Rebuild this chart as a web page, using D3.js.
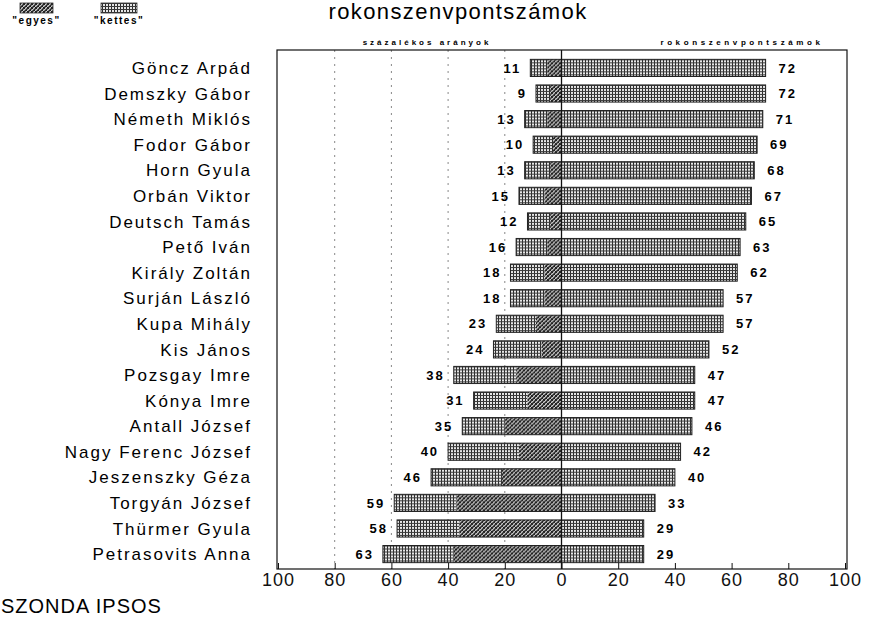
<!DOCTYPE html>
<html>
<head>
<meta charset="utf-8">
<script src="https://cdn.jsdelivr.net/npm/d3@7"></script>
<style>
  body { margin: 0; background: #fff; }
  svg { display: block; font-family: "Liberation Sans", Arial, sans-serif; }
</style>
</head>
<body>
<svg id="chart" width="869" height="618"></svg>
<script>
// politicians, top to bottom
const names = [
  'Göncz Arpád', 'Demszky Gábor', 'Németh Miklós', 'Fodor Gábor', 'Horn Gyula',
  'Orbán Viktor', 'Deutsch Tamás', 'Pető Iván', 'Király Zoltán', 'Surján László',
  'Kupa Mihály', 'Kis János', 'Pozsgay Imre', 'Kónya Imre', 'Antall József',
  'Nagy Ferenc József', 'Jeszenszky Géza', 'Torgyán József', 'Thürmer Gyula', 'Petrasovits Anna'
];
// "egyes" + "kettes" together (left side, percent)
const lowTotal = [11, 9, 13, 10, 13, 15, 12, 16, 18, 18, 23, 24, 38, 31, 35, 40, 46, 59, 58, 63];
// "egyes" share (darker part)
const egyes = [5, 4, 5, 3, 4, 6, 4, 5, 6, 6, 9, 7, 16, 12, 20, 15, 21, 37, 36, 38];
// rokonszenvpontszámok (right side)
const scores = [72, 72, 71, 69, 68, 67, 65, 63, 62, 57, 57, 52, 47, 47, 46, 42, 40, 33, 29, 29];
const tickValues = [-100, -80, -60, -40, -20, 0, 20, 40, 60, 80, 100];
const gridValues = [-80, -60, -40, -20];

const svg = d3.select('#chart');

const frame = { left: 277, right: 847, top: 50, bottom: 569 };

const x = d3.scaleLinear().domain([-100, 100]).range([frame.left + 1, frame.right - 2]);
const y = d3.scaleBand().domain(names).range([55, 567]).paddingInner(0.33).paddingOuter(0.17);

// textures
const defs = svg.append('defs');
const grid = defs.append('pattern')
  .attr('id', 'kettes').attr('width', 3).attr('height', 3)
  .attr('patternUnits', 'userSpaceOnUse');
grid.append('rect').attr('width', 3).attr('height', 3).attr('fill', '#e6e6e6');
grid.append('rect').attr('width', 1).attr('height', 3).attr('fill', '#2a2a2a');
grid.append('rect').attr('width', 3).attr('height', 1).attr('fill', '#3a3a3a');

const stip = defs.append('pattern')
  .attr('id', 'egyes').attr('width', 4).attr('height', 4)
  .attr('patternUnits', 'userSpaceOnUse');
stip.append('rect').attr('width', 4).attr('height', 4).attr('fill', '#777');
[[0, 0], [2, 1], [1, 2], [3, 3], [3, 0], [0, 3], [2, 2]].forEach(p => {
  stip.append('rect').attr('x', p[0]).attr('y', p[1]).attr('width', 1).attr('height', 1).attr('fill', '#222');
});
[[1, 0], [3, 2], [0, 1], [2, 3]].forEach(p => {
  stip.append('rect').attr('x', p[0]).attr('y', p[1]).attr('width', 1).attr('height', 1).attr('fill', '#cfcfcf');
});

// title
svg.append('text')
  .attr('x', 458).attr('y', 19)
  .attr('text-anchor', 'middle')
  .style('font-size', '22px')
  .style('letter-spacing', '1.4px')
  .text('rokonszenvpontszámok');

// legend
const legend = [
  { key: 'egyes', x: 20, w: 33 },
  { key: 'kettes', x: 101, w: 36 }
];
legend.forEach(l => {
  svg.append('rect')
    .attr('x', l.x).attr('y', 3).attr('width', l.w).attr('height', 10)
    .attr('fill', `url(#${l.key})`)
    .attr('stroke', '#333').attr('stroke-width', 0.8);
  svg.append('text')
    .attr('x', l.x + l.w / 2).attr('y', 24)
    .attr('text-anchor', 'middle')
    .style('font-size', '10px').style('font-weight', 'bold')
    .style('letter-spacing', '1.5px')
    .text(`"${l.key}"`);
});

// small headers above frame
svg.append('text')
  .attr('x', 427).attr('y', 45)
  .attr('text-anchor', 'middle')
  .style('font-size', '8px').style('font-weight', 'bold')
  .style('letter-spacing', '3px')
  .text('százalékos arányok');
svg.append('text')
  .attr('x', 742).attr('y', 45)
  .attr('text-anchor', 'middle')
  .style('font-size', '8px').style('font-weight', 'bold')
  .style('letter-spacing', '3.6px')
  .text('rokonszenvpontszámok');

// gridlines (left side, dotted)
svg.append('g')
  .selectAll('line')
  .data(gridValues)
  .join('line')
  .attr('x1', d => x(d)).attr('x2', d => x(d))
  .attr('y1', frame.top).attr('y2', frame.bottom)
  .attr('stroke', '#888')
  .attr('stroke-width', 1)
  .attr('stroke-dasharray', '2,5');

// frame
svg.append('rect')
  .attr('x', frame.left).attr('y', frame.top)
  .attr('width', frame.right - frame.left).attr('height', frame.bottom - frame.top)
  .attr('fill', 'none').attr('stroke', '#111').attr('stroke-width', 1.2);

// bottom axis
const axis = svg.append('g')
  .attr('transform', `translate(0,${frame.bottom})`)
  .call(d3.axisBottom(x).tickValues(tickValues).tickSize(-6).tickPadding(3)
    .tickFormat(d => Math.abs(d)));
axis.select('.domain').remove();
axis.selectAll('.tick line').attr('stroke', '#111');
axis.selectAll('.tick text')
  .style('font-size', '18px')
  .style('letter-spacing', '1px')
  .style('font-family', '"Liberation Sans", Arial, sans-serif')
  .attr('fill', '#111')
  .attr('dy', '0.75em');

const rows = svg.append('g')
  .selectAll('g')
  .data(names)
  .join('g')
  .attr('transform', d => `translate(0,${y(d)})`);

const h = y.bandwidth();

// kettes part (outer left)
rows.append('rect')
  .attr('x', (d, i) => x(-lowTotal[i]))
  .attr('width', (d, i) => x(-egyes[i]) - x(-lowTotal[i]))
  .attr('height', h)
  .attr('fill', 'url(#kettes)');
// egyes part (inner left)
rows.append('rect')
  .attr('x', (d, i) => x(-egyes[i]))
  .attr('width', (d, i) => x(0) - x(-egyes[i]))
  .attr('height', h)
  .attr('fill', 'url(#egyes)');
// outline left bar
rows.append('rect')
  .attr('x', (d, i) => x(-lowTotal[i]))
  .attr('width', (d, i) => x(0) - x(-lowTotal[i]))
  .attr('height', h)
  .attr('fill', 'none').attr('stroke', '#222').attr('stroke-width', 1);
// right bar
rows.append('rect')
  .attr('x', x(0))
  .attr('width', (d, i) => x(scores[i]) - x(0))
  .attr('height', h)
  .attr('fill', 'url(#kettes)')
  .attr('stroke', '#222').attr('stroke-width', 1);

// value labels
rows.append('text')
  .attr('x', (d, i) => x(-lowTotal[i]) - 9)
  .attr('y', h / 2).attr('dy', '0.36em')
  .attr('text-anchor', 'end')
  .style('font-size', '13px').style('font-weight', 'bold')
  .style('letter-spacing', '2px')
  .text((d, i) => lowTotal[i]);
rows.append('text')
  .attr('x', (d, i) => x(scores[i]) + 13)
  .attr('y', h / 2).attr('dy', '0.36em')
  .style('font-size', '13px').style('font-weight', 'bold')
  .style('letter-spacing', '2px')
  .text((d, i) => scores[i]);

// names
rows.append('text')
  .attr('x', 252)
  .attr('y', h / 2).attr('dy', '0.36em')
  .attr('text-anchor', 'end')
  .style('font-size', '17px')
  .style('letter-spacing', '2px')
  .text(d => d);

// zero line
svg.append('line')
  .attr('x1', x(0)).attr('x2', x(0))
  .attr('y1', frame.top).attr('y2', frame.bottom)
  .attr('stroke', '#111').attr('stroke-width', 1.3);

// source
svg.append('text')
  .attr('x', 1).attr('y', 613)
  .style('font-size', '20px')
  .style('letter-spacing', '1px')
  .text('SZONDA IPSOS');
</script>
</body>
</html>
